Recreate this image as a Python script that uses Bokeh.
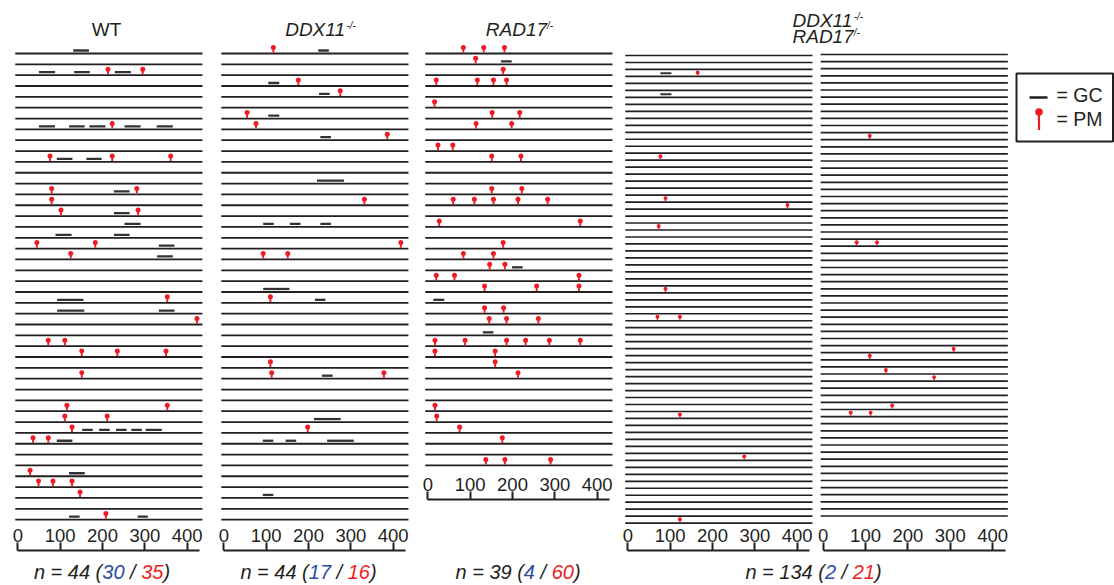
import numpy as np
from bokeh.plotting import figure
from bokeh.models import Range1d, LinearAxis, FixedTicker, ColumnDataSource
from bokeh.embed import file_html
from bokeh.resources import INLINE
from bokeh.core.properties import value

# ------------------------------------------------------------------ data
# positions in bp along the 0-430 bp scale, rows counted from the top (0)
WT_N = 44
WT_GC_ROW = [0, 2, 2, 2, 7, 7, 7, 7, 7, 10, 10, 13, 15, 16, 17, 17, 18, 19, 23, 24, 24,
             35, 35, 35, 35, 35, 36, 39, 43, 43]
WT_GC_START = [131, 50, 133, 229, 50, 121, 169, 252, 328, 92, 162, 227, 227, 252, 89, 227, 333, 329, 93, 93, 333,
               152, 192, 232, 268, 302, 92, 121, 121, 283]
WT_GC_END = [168, 88, 170, 267, 88, 158, 207, 290, 366, 129, 198, 264, 264, 290, 127, 264, 370, 366, 155, 157, 370,
             177, 217, 257, 293, 340, 129, 158, 146, 307]
WT_PM_ROW = [2, 2, 7, 10, 10, 10, 13, 13, 14, 15, 15, 18, 18, 19, 23, 25, 27, 27, 28, 28, 28, 30,
             33, 33, 34, 34, 35, 36, 36, 39, 40, 40, 40, 41, 43]
WT_PM_POS = [213, 295, 223, 76, 223, 361, 80, 281, 80, 102, 284, 45, 183, 125, 353, 423, 72, 111, 151, 235, 350, 151,
             116, 353, 111, 211, 128, 36, 72, 29, 49, 83, 128, 147, 208]

DDX_N = 44
DDX_GC_ROW = [0, 3, 4, 6, 8, 12, 16, 16, 16, 22, 23, 30, 34, 36, 36, 36, 41]
DDX_GC_START = [223, 105, 225, 105, 228, 220, 93, 156, 228, 93, 215, 232, 213, 92, 146, 244, 92]
DDX_GC_END = [248, 131, 250, 131, 253, 284, 118, 181, 253, 155, 240, 257, 276, 117, 171, 307, 117]
DDX_PM_ROW = [0, 3, 4, 6, 7, 8, 14, 18, 19, 19, 23, 29, 30, 30, 35]
DDX_PM_POS = [117, 176, 275, 55, 76, 386, 332, 418, 93, 151, 110, 110, 113, 378, 198]

RAD_N = 39
RAD_GC_ROW = [1, 20, 23, 26]
RAD_GC_START = [173, 199, 13, 130]
RAD_GC_END = [198, 224, 39, 155]
RAD_PM_ROW = [0, 0, 0, 1, 2, 3, 3, 3, 3, 5, 6, 6, 7, 7, 9, 9, 10, 10, 13, 13, 14, 14, 14, 14, 14, 16, 16, 18,
              19, 19, 20, 20, 21, 21, 21, 22, 22, 22, 24, 24, 25, 25, 25, 27, 27, 27, 27, 27, 27, 28, 28, 29, 30,
              33, 34, 35, 36, 38, 38, 38]
RAD_PM_POS = [84, 132, 181, 113, 178, 20, 117, 155, 186, 16, 152, 217, 114, 198, 24, 59, 151, 220, 151, 222,
              60, 110, 155, 213, 283, 27, 360, 178, 84, 155, 146, 182, 20, 63, 357, 134, 257, 357, 134, 179,
              145, 186, 261, 17, 88, 186, 231, 287, 360, 17, 159, 159, 213, 17, 21, 75, 176, 137, 182, 290]

DKOL_N = 68
DKOL_GC_ROW = [3, 6]
DKOL_GC_START = [77, 77]
DKOL_GC_END = [103, 103]
DKOL_PM_ROW = [3, 15, 21, 22, 25, 34, 38, 38, 52, 58, 67]
DKOL_PM_POS = [165, 77, 89, 377, 73, 89, 70, 123, 123, 275, 123]

DKOR_N = 66
DKOR_GC_ROW = []
DKOR_GC_START = []
DKOR_GC_END = []
DKOR_PM_ROW = [12, 27, 27, 42, 43, 45, 46, 50, 51, 51]
DKOR_PM_POS = [110, 79, 127, 308, 110, 148, 262, 163, 65, 112]

AXIS_TICKS = [0, 100, 200, 300, 400]
N_TOTAL = [44, 44, 39, 134]
N_GC = [30, 17, 4, 2]
N_PM = [35, 16, 60, 21]

# ------------------------------------------------------------------ style / layout
FONT = "Liberation Sans"
INK = "#231f20"
RED = "#ed1c24"
BLUE = "#2e4b9f"
GCC = "#333333"

OX, OY = 0, 0
PAGE_W, PAGE_H = 1114, 585
K = 0.4235            # px per bp
LINE_START, LINE_END = -6, 436

GEO = {
    "wt":   dict(zero=17.3, top=53, step=10.84, axis=550, lw=1.8, gc_lift=3.0, gc_w=2.3, stem=5.5, dot=6.0, dsize=5.0, sw=1.9),
    "ddx":  dict(zero=223.3, top=53, step=10.84, axis=550, lw=1.8, gc_lift=3.0, gc_w=2.3, stem=5.5, dot=6.0, dsize=5.0, sw=1.9),
    "rad":  dict(zero=427.3, top=53, step=10.84, axis=499, lw=1.8, gc_lift=3.0, gc_w=2.3, stem=5.5, dot=6.0, dsize=5.0, sw=1.9),
    "dkol": dict(zero=627.3, top=55, step=6.98, axis=550, lw=1.7, gc_lift=3.2, gc_w=2.0, stem=3.5, dot=4.0, dsize=3.9, sw=1.5),
    "dkor": dict(zero=822.7, top=54, step=7.10, axis=550, lw=1.7, gc_lift=3.2, gc_w=2.0, stem=3.5, dot=4.0, dsize=3.9, sw=1.5),
}

p = figure(width=PAGE_W, height=PAGE_H,
           x_range=Range1d(OX, OX + PAGE_W), y_range=Range1d(OY + PAGE_H, OY),
           x_axis_type=None, y_axis_type=None, toolbar_location=None,
           output_backend="svg", min_border=0, outline_line_color=None,
           background_fill_color="white", border_fill_color="white")


def add_panel(key, n_rows, gc_row, gc_start, gc_end, pm_row, pm_pos):
    g = GEO[key]
    p.extra_x_ranges[key] = Range1d((OX - g["zero"]) / K, (OX + PAGE_W - g["zero"]) / K)
    p.extra_y_ranges[key] = Range1d((OY + PAGE_H - g["top"]) / g["step"], (OY - g["top"]) / g["step"])
    rows = np.arange(n_rows, dtype=float)
    src = ColumnDataSource(dict(y=rows, x0=np.full(n_rows, LINE_START), x1=np.full(n_rows, LINE_END)))
    p.segment("x0", "y", "x1", "y", source=src, line_color=INK, line_width=g["lw"],
              x_range_name=key, y_range_name=key)
    if len(gc_row):
        gy = np.array(gc_row, float) - g["gc_lift"] / g["step"]
        p.segment(x0=gc_start, y0=gy, x1=gc_end, y1=gy, line_color=GCC, line_width=g["gc_w"],
                  x_range_name=key, y_range_name=key)
    pr = np.array(pm_row, float)
    p.segment(x0=pm_pos, y0=pr - 0.9 / g["step"], x1=pm_pos, y1=pr - g["stem"] / g["step"],
              line_color=RED, line_width=g["sw"], x_range_name=key, y_range_name=key)
    p.scatter(x=pm_pos, y=pr - g["dot"] / g["step"], size=g["dsize"], marker="circle",
              fill_color=RED, line_color=None, x_range_name=key, y_range_name=key)
    ax = LinearAxis(x_range_name=key, fixed_location=g["axis"], ticker=FixedTicker(ticks=AXIS_TICKS),
                    bounds=(0, 430))
    ax.axis_line_color = INK
    ax.axis_line_width = 2
    ax.major_tick_line_color = INK
    ax.major_tick_line_width = 2
    ax.major_tick_out = 8
    ax.major_tick_in = 0
    ax.minor_tick_out = 0
    ax.minor_tick_in = 0
    ax.major_label_text_font = FONT
    ax.major_label_text_font_size = "18.5px"
    ax.major_label_text_color = INK
    ax.major_label_standoff = 1
    p.add_layout(ax, "above")


add_panel("wt", WT_N, WT_GC_ROW, WT_GC_START, WT_GC_END, WT_PM_ROW, WT_PM_POS)
add_panel("ddx", DDX_N, DDX_GC_ROW, DDX_GC_START, DDX_GC_END, DDX_PM_ROW, DDX_PM_POS)
add_panel("rad", RAD_N, RAD_GC_ROW, RAD_GC_START, RAD_GC_END, RAD_PM_ROW, RAD_PM_POS)
add_panel("dkol", DKOL_N, DKOL_GC_ROW, DKOL_GC_START, DKOL_GC_END, DKOL_PM_ROW, DKOL_PM_POS)
add_panel("dkor", DKOR_N, DKOR_GC_ROW, DKOR_GC_START, DKOR_GC_END, DKOR_PM_ROW, DKOR_PM_POS)

# ------------------------------------------------------------------ texts
CW = {' ': 0.278, '=': 0.584, '(': 0.333, ')': 0.333, '/': 0.278, '-': 0.333, 'n': 0.556,
      'D': 0.722, 'X': 0.667, 'R': 0.722, 'A': 0.667, 'W': 0.944, 'T': 0.611,
      'G': 0.778, 'C': 0.722, 'P': 0.667, 'M': 0.833}


def tw(s, size):
    return sum(CW.get(c, 0.556) for c in s) * size


def rich(parts, x, mid, align="center"):
    """parts: (text, colour, size px, style, y centre shift)"""
    total = sum(tw(t, sz) for t, c, sz, st, dy in parts)
    cx = x - total / 2 if align == "center" else x
    for t, c, sz, st, dy in parts:
        lead = len(t) - len(t.lstrip())
        p.text(x=[cx + lead * CW[' '] * sz], y=[mid + dy], text=[t.strip()], text_color=c,
               text_font=value(FONT), text_font_size=f"{sz}px", text_font_style=st,
               text_align="left", text_baseline="middle")
        cx += tw(t, sz)


TS, SS = 19, 10
rich([("WT", INK, TS, "normal", 0)], 106, 28.5)
rich([("DDX11", INK, TS, "italic", 0), ("-/-", INK, SS, "italic", -4)], 320, 28.5)
rich([("RAD17", INK, TS, "italic", 0), ("/-", INK, SS, "italic", -4)], 519, 28.5)
rich([("DDX11", INK, TS, "italic", 0), ("-/-", INK, SS, "italic", -4)], 792, 19.5, align="left")
rich([("RAD17", INK, TS, "italic", 0), ("/-", INK, SS, "italic", -4)], 792, 36, align="left")

NS = 20
for cx, n, gc, pm in zip([101.5, 308, 517.5, 813], N_TOTAL, N_GC, N_PM):
    rich([(f"n = {n} (", INK, NS, "italic", 0), (f"{gc}", BLUE, NS, "italic", 0),
          (" / ", INK, NS, "italic", 0), (f"{pm}", RED, NS, "italic", 0),
          (")", INK, NS, "italic", 0)], cx, 571)

# ------------------------------------------------------------------ legend (page coordinates)
p.quad(left=[1016], right=[1112.5], top=[73], bottom=[141], fill_color=None,
       line_color=INK, line_width=2)
p.segment(x0=[1029], y0=[97], x1=[1047], y1=[97], line_color=INK, line_width=2.4)
p.segment(x0=[1038.5], y0=[112], x1=[1038.5], y1=[129.5], line_color=RED, line_width=2.2)
p.scatter(x=[1038.5], y=[111.5], size=7.5, marker="circle", fill_color=RED, line_color=None)
rich([("= GC", INK, 19.5, "normal", 0)], 1056, 94.5, align="left")
rich([("= PM", INK, 19.5, "normal", 0)], 1056, 118.5, align="left")

open("out.html", "w").write(file_html(p, INLINE))
